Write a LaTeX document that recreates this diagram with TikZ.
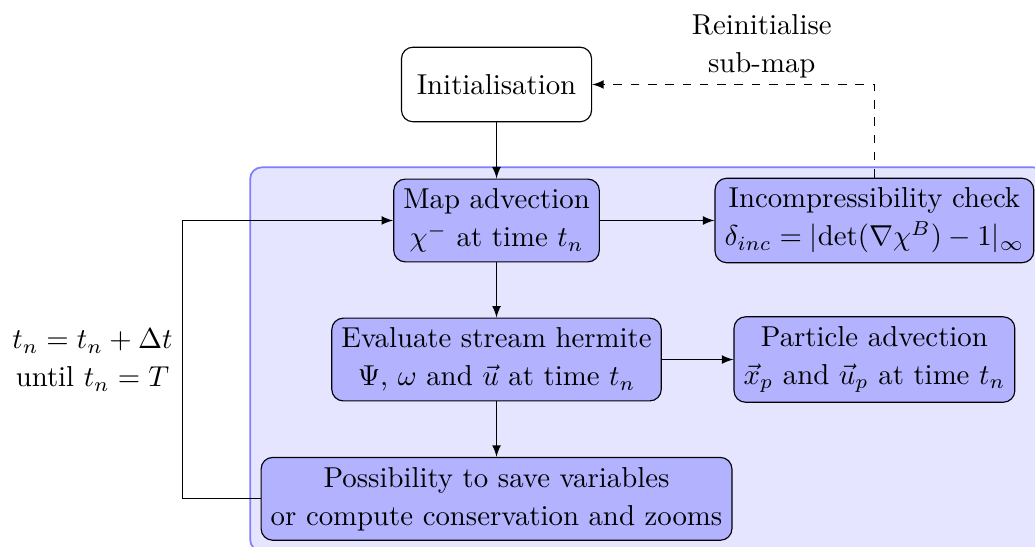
\documentclass[tikz,border=0pt]{standalone}
\usetikzlibrary{fit,backgrounds}

\tikzstyle{edge} = [draw, -latex]
\tikzstyle{block}=[draw, rounded corners, fill=blue!30, align=center, font=\fontsize{10}{13.2}\selectfont]
\tikzstyle{startblock}=[draw, rounded corners, fill=white, minimum width=2.32cm, minimum height=0.91cm]
\tikzstyle{loopbox}=[draw=blue!50, semithick, fill=blue!10, rounded corners, inner sep=3.6pt]
\tikzstyle{caption}=[align=center, font=\fontsize{10}{13.2}\selectfont]

\begin{document}
\begin{tikzpicture}
  \useasboundingbox (0,0) rectangle (12.632,-6.664);

  \node[startblock] (init) at (6.06,-1.031) {Initialisation};
  \node[block] (mapadv) at (6.06,-2.691) {Map advection\\ $\chi^-$ at time $t_n$};
  \node[block] (incomp) at (10.672,-2.691) {Incompressibility check\\ $\delta_{inc} = |\mathrm{det}(\nabla\chi^B)-1|_\infty$};
  \node[block] (stream) at (6.06,-4.388) {Evaluate stream hermite\\ $\Psi$, $\omega$ and $\vec{u}$ at time $t_n$};
  \node[block] (particle) at (10.672,-4.388) {Particle advection\\ $\vec{x}_p$ and $\vec{u}_p$ at time $t_n$};
  \node[block] (output) at (6.06,-6.088) {Possibility to save variables\\ or compute conservation and zooms};

  \coordinate (loop) at (2.23,-4.394);
  \node[caption, anchor=east] (steplabel) at (loop) {$t_n = t_n + \Delta t$\\ until $t_n = T$};
  \node[caption] (reinitlabel) at (9.297,-0.56) {Reinitialise\\ sub-map};

  % time loop region
  \begin{pgfonlayer}{background}
    \node[loopbox, fit=(mapadv)(incomp)(particle)(output)] (timeloop) {};
  \end{pgfonlayer}

  \foreach \source/\sink in {init/mapadv, mapadv/incomp, mapadv/stream, stream/particle, stream/output} {
    \path[edge] (\source) -- (\sink);
  }
  \path[edge] (output.west) -| (loop) |- (mapadv.west);
  \path[edge, dashed] (incomp.north) |- (init.east);
\end{tikzpicture}
\end{document}
